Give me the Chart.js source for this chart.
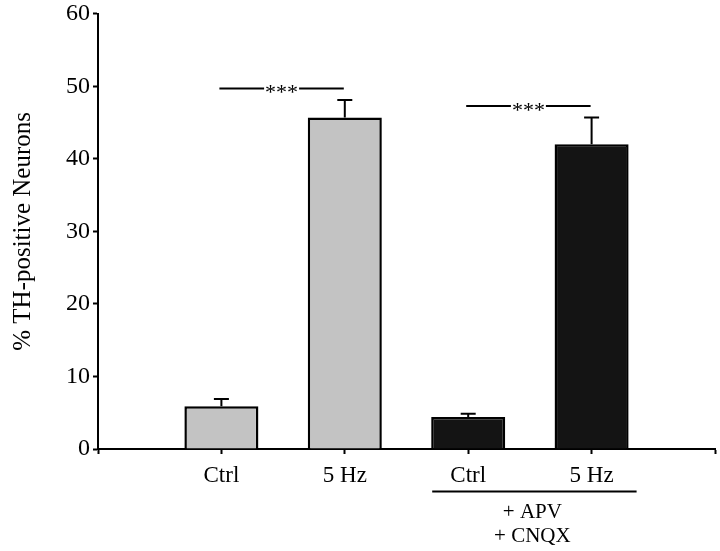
<!DOCTYPE html>
<html>
<head>
<meta charset="utf-8">
<script src="https://cdn.jsdelivr.net/npm/chart.js@4.4.1/dist/chart.umd.min.js"></script>
<style>
  html, body { margin: 0; padding: 0; background: #fff; }
  #wrap { width: 720px; height: 551px; position: relative; }
</style>
</head>
<body>
<div id="wrap"><canvas id="c" width="720" height="551"></canvas></div>
<script>
// ---- data ----
const categories = ['Ctrl', '5 Hz', 'Ctrl', '5 Hz'];
const means = [5.9, 45.7, 4.4, 42.0];
const errors = [1.0, 2.4, 0.45, 3.7];
const barColors = ['#c3c3c3', '#c3c3c3', '#141414', '#141414'];
const yTicks = [0, 10, 20, 30, 40, 50, 60];
const sigPairs = [[1, 2], [3, 4]];      // category positions joined by a significance line
const sigLevels = [49.7, 47.3];          // y value of each significance line
const sigText = ['***', '***'];
const groupLines = ['+ APV', '+ CNQX'];  // label under the last two bars
const yTitle = '% TH-positive Neurons';

// padded category axis (empty slot at both ends)
const labels = [''].concat(categories, ['']);
const data = [null].concat(means, [null]);
const colors = ['#fff'].concat(barColors, ['#fff']);

const FONT = "'Liberation Serif', 'Times New Roman', serif";

const overlay = {
  id: 'overlay',
  afterDatasetsDraw(chart) {
    const ctx = chart.ctx;
    const xs = chart.scales.x, ys = chart.scales.y;
    const meta = chart.getDatasetMeta(0);
    ctx.save();
    ctx.strokeStyle = '#000';
    ctx.fillStyle = '#000';
    // error bars (upward only)
    means.forEach((m, i) => {
      const el = meta.data[i + 1];
      const x = el.x;
      const y0 = ys.getPixelForValue(m);
      const y1 = ys.getPixelForValue(m + errors[i]);
      ctx.lineWidth = 2;
      ctx.beginPath();
      ctx.moveTo(x, y0);
      ctx.lineTo(x, y1);
      ctx.moveTo(x - 7.5, y1);
      ctx.lineTo(x + 7.5, y1);
      ctx.stroke();
    });
    // significance lines
    ctx.font = '22px ' + FONT;
    ctx.textAlign = 'center';
    ctx.textBaseline = 'middle';
    sigPairs.forEach((p, i) => {
      const xa = xs.getPixelForValue(p[0]) - 2;
      const xb = xs.getPixelForValue(p[1]) - 1;
      const y = ys.getPixelForValue(sigLevels[i]);
      const xm = (xa + xb) / 2;
      const tw = ctx.measureText(sigText[i]).width;
      ctx.lineWidth = 2;
      ctx.beginPath();
      ctx.moveTo(xa, y);
      ctx.lineTo(xm - tw / 2 - 1, y);
      ctx.moveTo(xm + tw / 2 + 1, y);
      ctx.lineTo(xb, y);
      ctx.stroke();
      ctx.fillText(sigText[i], xm, y + 5);
    });
    // group line and labels under last two bars
    const xl = meta.data[3].x - 36;
    const xr = meta.data[4].x + 45;
    const base = chart.chartArea.bottom;
    ctx.lineWidth = 2;
    ctx.beginPath();
    ctx.moveTo(xl, base + 42.5);
    ctx.lineTo(xr, base + 42.5);
    ctx.stroke();
    ctx.font = '21px ' + FONT;
    const xc = (xl + xr) / 2 - 2;
    groupLines.forEach((t, i) => {
      ctx.fillText(t, xc, base + 63 + i * 24.5);
    });
    ctx.restore();
  }
};

new Chart(document.getElementById('c'), {
  type: 'bar',
  data: {
    labels: labels,
    datasets: [{
      data: data,
      backgroundColor: colors,
      borderColor: '#000',
      borderWidth: 2.5,
      borderSkipped: 'bottom',
      barPercentage: 0.6,
      categoryPercentage: 1.0
    }]
  },
  options: {
    responsive: false,
    animation: false,
    devicePixelRatio: 1,
    layout: { padding: { top: 12, right: 5, left: 0, bottom: 0 } },
    plugins: { legend: { display: false }, tooltip: { enabled: false } },
    scales: {
      x: {
        type: 'category',
        offset: false,
        grid: { offset: false, drawOnChartArea: false, drawTicks: true, tickLength: 5, tickWidth: 2, tickColor: '#000' },
        border: { display: true, color: '#000', width: 2 },
        ticks: { color: '#000', font: { family: FONT, size: 23 }, padding: 8, maxRotation: 0, autoSkip: false },
        afterFit(s) { s.height = 102; s.paddingRight = 0; s.paddingLeft = 0; }
      },
      y: {
        min: 0, max: 60,
        afterBuildTicks(s) { s.ticks = yTicks.map(v => ({ value: v })); },
        grid: { drawOnChartArea: false, drawTicks: true, tickLength: 5, tickWidth: 2, tickColor: '#000' },
        border: { display: true, color: '#000', width: 2 },
        ticks: { color: '#000', font: { family: FONT, size: 24, lineHeight: 0.9 }, padding: 3 },
        title: { display: true, text: yTitle, color: '#000', font: { family: FONT, size: 25 }, padding: { top: 8, bottom: 0 } },
        afterFit(s) { s.width = 98; }
      }
    }
  },
  plugins: [overlay]
});
</script>
</body>
</html>
